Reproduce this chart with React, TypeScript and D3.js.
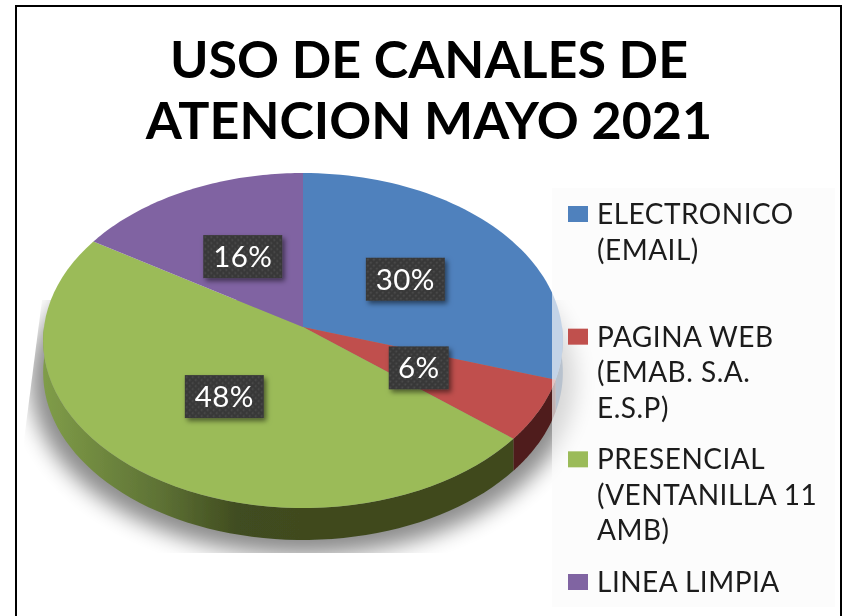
import React from "react";
import * as d3 from "d3";

const titleLines = ["USO DE CANALES DE", "ATENCION MAYO 2021"];
const categories = ["ELECTRONICO (EMAIL)", "PAGINA WEB (EMAB. S.A. E.S.P)", "PRESENCIAL (VENTANILLA 11 AMB)", "LINEA LIMPIA"];
const legendLines = [["ELECTRONICO", "(EMAIL)"], ["PAGINA WEB", "(EMAB. S.A.", "E.S.P)"], ["PRESENCIAL", "(VENTANILLA 11", "AMB)"], ["LINEA LIMPIA"]];
const values = [30, 6, 48, 16];
const colors = ["#4F81BD", "#C0504D", "#9BBB59", "#8064A2"];
const wallColors = ["#2F4D71", "#4F1D1B", "url(#greenWall)", "#4C3C61"];

const cx = 303, cy = 327, B = 259, A = 166.4, k = 0.0806, depth = 32;

// perspective projection of a point on the unit disc (angle clockwise from 12 o'clock)
function project(a: number, r = 1): [number, number] {
  const x = r * Math.sin(a), y = -r * Math.cos(a);
  const d = 1 - k * y;
  return [cx + (B * x) / d, cy + (A * y) / d];
}

const arcs = d3.pie<number>().sort(null)(values);
const line = d3.line();

function sample(a0: number, a1: number): [number, number][] {
  return d3.range(0, 61).map((i) => project(a0 + ((a1 - a0) * i) / 60));
}
function topPath(a0: number, a1: number) {
  return line([[cx, cy], ...sample(a0, a1)])! + "Z";
}
function wallPath(a0: number, a1: number) {
  const lo = Math.max(a0, Math.PI / 2), hi = Math.min(a1, Math.PI * 1.5);
  if (hi <= lo) return null;
  const pts = sample(lo, hi);
  const shifted = pts.map(([x, y]) => [x, y + depth] as [number, number]).reverse();
  return line([...pts, ...shifted])! + "Z";
}

const outline = topPath(0, Math.PI * 2);
const font = "Lato, 'Open Sans', sans-serif";
const legendY = d3.scaleLinear().domain([0, 3]).range([222, 590]);
const lineStep = 35.5;

export default function App() {
  return (
    <svg width={844} height={616} style={{ position: "absolute", left: 0, top: 0, background: "#fff" }}>
      <defs>
        <linearGradient id="greenWall" gradientUnits="userSpaceOnUse" x1={45} x2={300} y1={0} y2={0}>
          <stop offset="0" stopColor="#7F9C48" />
          <stop offset="0.45" stopColor="#5E7235" />
          <stop offset="0.75" stopColor="#414D20" />
          <stop offset="1" stopColor="#3F4A1F" />
        </linearGradient>
        <filter id="shadowBlur" x="-20%" y="-20%" width="140%" height="140%">
          <feGaussianBlur stdDeviation="10" />
        </filter>
        <filter id="soft" x="-5%" y="-5%" width="110%" height="110%">
          <feGaussianBlur stdDeviation="0.55" />
        </filter>
        <filter id="boxShadow" x="-30%" y="-30%" width="170%" height="170%">
          <feDropShadow dx="2.5" dy="3" stdDeviation="2.5" floodColor="#000" floodOpacity="0.5" />
        </filter>
        <pattern id="dots" width="6" height="6" patternUnits="userSpaceOnUse">
          <rect width="6" height="6" fill="#383838" />
          <circle cx="1.5" cy="1.5" r="0.9" fill="#505050" />
          <circle cx="4.5" cy="4.5" r="0.9" fill="#505050" />
        </pattern>
        <clipPath id="shadowClip">
          <polygon points="42,300 24,440 24,553 640,553 640,300" />
        </clipPath>
      </defs>

      <rect x={16} y={6} width={825} height={620} fill="#fff" stroke="#000" strokeWidth={2} />

      <g fontFamily={font} fontWeight={700} fontSize={52} fill="#000" textAnchor="middle" filter="url(#soft)">
        {titleLines.map((t, i) => (
          <text key={t} x={429} y={78 + i * 61}>{t}</text>
        ))}
      </g>

      <g clipPath="url(#shadowClip)">
        <path
          d={outline}
          transform={`translate(${cx},${cy + depth + 8}) scale(1.05,1.04) translate(${-cx},${-cy})`}
          fill="#000"
          opacity={0.45}
          filter="url(#shadowBlur)"
        />
      </g>

      <g filter="url(#soft)">
        {arcs.map((d, i) => {
          const p = wallPath(d.startAngle, d.endAngle);
          return p ? <path key={i} d={p} fill={wallColors[i]} /> : null;
        })}
        {arcs.map((d, i) => (
          <path key={i} d={topPath(d.startAngle, d.endAngle)} fill={colors[i]} />
        ))}
      </g>

      <rect x={552} y={188} width={283} height={419} fill="#FAFAFA" opacity={0.68} />

      {arcs.map((d, i) => {
        const [x, y] = project((d.startAngle + d.endAngle) / 2, 0.5);
        const w = i === 1 ? 60 : 79;
        return (
          <g key={categories[i]} transform={`translate(${x},${y})`}>
            <rect x={-w / 2} y={-21.5} width={w} height={43} fill="url(#dots)" filter="url(#boxShadow)" />
            <text y={10.5} textAnchor="middle" fontFamily={font} fontSize={29.5} letterSpacing={0.4} fill="#fff" filter="url(#soft)">
              {d.value}%
            </text>
          </g>
        );
      })}

      <g fontFamily={font} fontSize={28} letterSpacing={0.5} fill="#1a1a1a">
        {legendLines.map((lines, i) => (
          <g key={i}>
            <rect x={568} y={legendY(i) - 16} width={20} height={16} fill={colors[i]} />
            <g filter="url(#soft)">
              {lines.map((t, j) => (
                <text key={j} x={597} y={legendY(i) + 2 + j * lineStep}>{t}</text>
              ))}
            </g>
          </g>
        ))}
      </g>
    </svg>
  );
}
